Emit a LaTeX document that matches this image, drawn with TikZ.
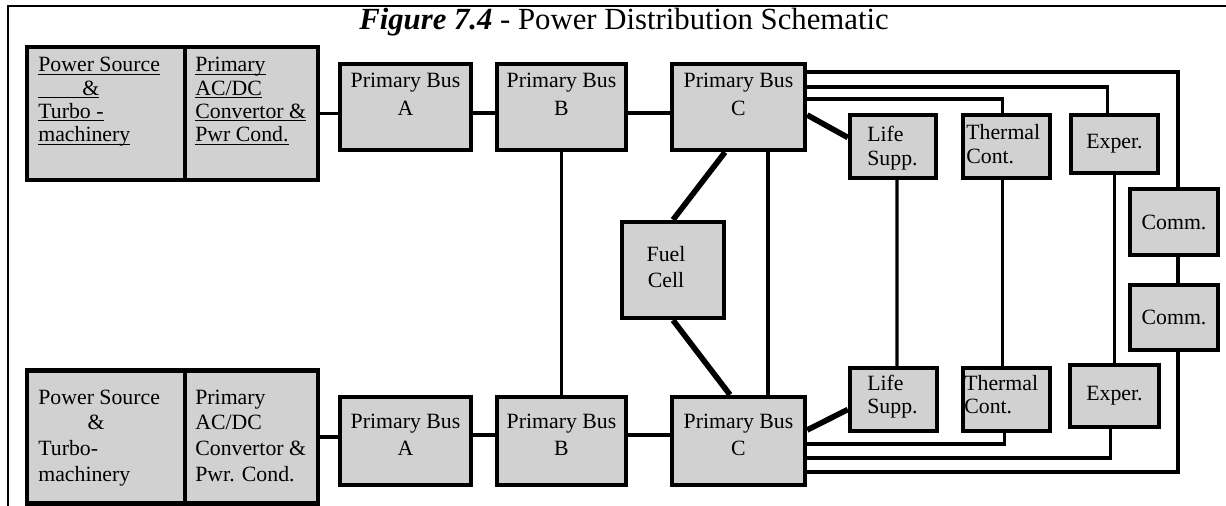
\documentclass[tikz,border=0pt]{standalone}
\usepackage{fontspec}
\setmainfont{Liberation Serif}
\usetikzlibrary{calc}
\definecolor{boxfill}{gray}{0.82}
\newcommand\undl[1]{\underline{\smash{#1}}}
\newcommand\lstack[2]{{\def\arraystretch{1}\setlength\tabcolsep{0pt}\fontsize{12.4}{#1}\selectfont\begin{tabular}[t]{@{}l@{}}#2\end{tabular}}}
\newcommand\cstack[2]{{\def\arraystretch{1}\setlength\tabcolsep{0pt}\fontsize{12.4}{#1}\selectfont\begin{tabular}[t]{@{}c@{}}#2\end{tabular}}}
\begin{document}
\begin{tikzpicture}[x=0.02cm,y=-0.02cm,
  box/.style={draw, line width=2.5pt, fill=boxfill, inner sep=0pt, font=\fontsize{12.4}{14}\selectfont},
  sz/.style 2 args={minimum width=#1*0.02cm, minimum height=#2*0.02cm},
  txt/.style={inner sep=0pt},
  wire/.style={line width=1.9pt},
  thinwire/.style={line width=1.3pt},
  heavy/.style={line width=3.2pt},
  frame/.style={line width=1.2pt}]
\useasboundingbox (0,0) rectangle (1226,506);
\draw[frame] (1226,6) -- (8,6) -- (8,506);
\node[anchor=base, inner sep=0pt, font=\fontsize{17.5}{20}\selectfont] (title) at (624,30)
  {\textbf{\textit{Figure 7.4}} - Power Distribution Schematic};

% power source + converter boxes
\node[box, sz={158}{133}] (psT) at (106,113.5) {};
\node[box, sz={133}{133}] (acT) at (251.5,113.5) {};
\node[box, sz={158}{133}] (psB) at (106,437) {};
\node[box, sz={133}{133}] (acB) at (251.5,437) {};
\node[txt, anchor=base west] (psTt) at (38,72)
  {\lstack{13.2pt}{\undl{Power Source}\\ \undl{\hspace*{25pt}\&}\\ \undl{Turbo -}\\ \undl{machinery}}};
\node[txt, anchor=base west] (acTt) at (195,72)
  {\lstack{13.2pt}{\undl{Primary}\\ \undl{AC/DC}\\ \undl{Convertor \&}\\ \undl{Pwr Cond.}}};
\node[txt, anchor=base west] (psBt) at (38,404)
  {\lstack{14.7pt}{Power Source\\ \hspace*{28pt}\&\\ Turbo-\\ machinery}};
\node[txt, anchor=base west] (acBt) at (195,404)
  {\lstack{14.7pt}{Primary\\ AC/DC\\ Convertor \&\\ Pwr. Cond.}};

% primary buses
\node[box, sz={131}{86}] (busAT) at (405.5,107) {};
\node[box, sz={129}{86}] (busBT) at (561.5,107) {};
\node[box, sz={133}{86}] (busCT) at (738.5,107) {};
\node[box, sz={131}{88}] (busAB) at (405.5,441) {};
\node[box, sz={129}{88}] (busBB) at (561.5,441) {};
\node[box, sz={133}{88}] (busCB) at (738.5,441) {};
\node[txt, anchor=base] (busATt) at (405.5,88) {\cstack{15.6pt}{Primary Bus\\ A}};
\node[txt, anchor=base] (busBTt) at (561.5,88) {\cstack{15.6pt}{Primary Bus\\ B}};
\node[txt, anchor=base] (busCTt) at (738.5,88) {\cstack{15.6pt}{Primary Bus\\ C}};
\node[txt, anchor=base] (busABt) at (405.5,428) {\cstack{15.6pt}{Primary Bus\\ A}};
\node[txt, anchor=base] (busBBt) at (561.5,428) {\cstack{15.6pt}{Primary Bus\\ B}};
\node[txt, anchor=base] (busCBt) at (738.5,428) {\cstack{15.6pt}{Primary Bus\\ C}};

% fuel cell
\node[box, sz={102}{96}] (fc) at (673,270) {};
\node[txt, anchor=base] (fct) at (666,262) {\cstack{14.7pt}{Fuel\\ Cell}};

% subsystem boxes
\node[box, sz={86}{63}] (lifeT) at (893,146.5) {};
\node[box, sz={87}{63}] (thermT) at (1006.5,146.5) {};
\node[box, sz={87}{58}] (experT) at (1114.5,144) {Exper.};
\node[box, sz={88}{66}] (commU) at (1174,222) {Comm.};
\node[box, sz={88}{65}] (commL) at (1174,317.5) {Comm.};
\node[box, sz={87}{63}] (lifeB) at (893.5,399.5) {};
\node[box, sz={87}{63}] (thermB) at (1006.5,399.5) {};
\node[box, sz={89}{62}] (experB) at (1114.5,396) {Exper.};
\node[txt, anchor=base west] (lifeTt) at (867,142) {\lstack{13.2pt}{Life\\ Supp.}};
\node[txt, anchor=base west] (thermTt) at (966,140) {\lstack{13.2pt}{Thermal\\ Cont.}};
\node[txt, anchor=base west] (lifeBt) at (867,390) {\lstack{13.2pt}{Life\\ Supp.}};
\node[txt, anchor=base west] (thermBt) at (964,390) {\lstack{13.2pt}{Thermal\\ Cont.}};

% connectors
\draw[wire] (acT.east) -- (acT.east -| busAT.west);
\draw[wire] (acB.east) -- (acB.east -| busAB.west);
\draw[wire] ($(busAT.east)+(0,6)$) -- ($(busBT.west)+(0,6)$);
\draw[wire] ($(busBT.east)+(0,6)$) -- ($(busCT.west)+(0,6)$);
\draw[wire] ($(busAB.east)+(0,-6)$) -- ($(busBB.west)+(0,-6)$);
\draw[wire] ($(busBB.east)+(0,-6)$) -- ($(busCB.west)+(0,-6)$);
\draw[thinwire] (busBT.south) -- (busBB.north);
\coordinate (cv) at (768,0);
\draw[wire] (cv |- busCT.south) -- (cv |- busCB.north);
\coordinate (f1) at (725,0);
\coordinate (f2) at (730,0);
\draw[heavy] (fc.north) -- (f1 |- busCT.south);
\draw[heavy] (fc.south) -- (f2 |- busCB.north);
\draw[heavy] ($(busCT.east)+(0,8)$) -- ($(lifeT.west)+(0,-9)$);
\draw[heavy] ($(busCB.east)+(0,-11)$) -- ($(lifeB.west)+(0,10)$);
\coordinate (yT1) at (0,72);
\coordinate (yT2) at (0,87);
\coordinate (yT3) at (0,99);
\draw[wire] (busCT.east |- yT3) -| ($(thermT.north)+(-4,0)$);
\draw[wire] (busCT.east |- yT2) -| ($(experT.north)+(-7,0)$);
\draw[wire] (busCT.east |- yT1) -| ($(commU.north)+(4,0)$);
\draw[wire] ($(lifeT.south)+(4,0)$) -- ($(lifeB.north)+(3.5,0)$);
\draw[wire] ($(thermT.south)+(-4,0)$) -- ($(thermB.north)+(-4,0)$);
\draw[wire] (experT.south) -- (experB.north);
\draw[wire] ($(commU.south)+(4,0)$) -- ($(commL.north)+(4,0)$);
\coordinate (yB1) at (0,444);
\coordinate (yB2) at (0,458);
\coordinate (yB3) at (0,472);
\draw[wire] ($(thermB.south)+(-2,0)$) |- (busCB.east |- yB1);
\draw[wire] ($(experB.south)+(-4,0)$) |- (busCB.east |- yB2);
\draw[wire] ($(commL.south)+(4,0)$) |- (busCB.east |- yB3);
\end{tikzpicture}
\end{document}
